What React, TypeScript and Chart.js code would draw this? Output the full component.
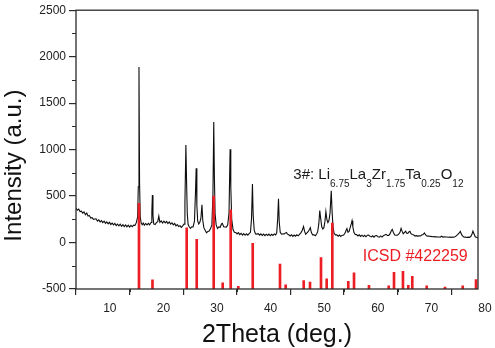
import { useEffect, useRef } from 'react';
import Chart from 'chart.js/auto';

// Measured XRD scan of sample 3# (2θ in degrees, intensity in counts)
const scanLow: [number, number][] = [
  [5.00,372],[5.25,348],[5.50,360],[5.75,333],[6.00,338],[6.25,316],[6.50,330],[6.75,300],[7.00,318],[7.25,285],
  [7.50,290],[7.75,264],[8.00,268],[8.25,249],[8.50,254],[8.75,256],[9.00,230],[9.25,244],[9.50,222],[9.75,236],
  [10.00,214],[10.25,230],[10.50,206],[10.75,222],[11.00,201],[11.25,218],[11.50,194],[11.75,209],[12.00,190],[12.25,206],
  [12.50,183],[12.75,199],[13.00,180],[13.25,197],[13.50,175],[13.75,192],[14.00,171],[14.25,189],[14.50,168],[14.75,186],
  [15.00,166],[15.25,184],[15.50,170],[15.75,187],[16.00,184],[16.25,214],[16.50,275],[16.62,600],[16.75,1890],[16.86,640],
  [16.98,280],[17.15,212],[17.35,192],[17.55,210],[17.75,187],[18.00,205],[18.25,189],[18.50,207],[18.75,191],[19.00,215],
  [19.15,330],[19.25,510],[19.36,290],[19.50,200],[19.75,194],[20.00,214],[20.25,224],[20.45,285],[20.65,218],[20.90,233],
  [21.15,210],[21.40,230],[21.65,212],[21.90,228],[22.15,204],[22.40,221],[22.65,199],[22.90,213],[23.15,191],[23.40,205],
  [23.65,180],[23.90,194],[24.15,173],[24.40,181],[24.65,164],[24.90,180],
];

const scanMid: [number, number][] = [
  [25.15,198],[25.32,420],[25.50,1050],[25.62,680],[25.76,310],[25.92,194],[26.12,170],[26.35,152],[26.60,170],[26.85,168],
  [27.10,230],[27.28,520],[27.42,800],[27.55,400],[27.70,232],[27.90,200],[28.10,218],[28.30,262],[28.50,405],[28.65,240],
  [28.85,160],[29.10,131],[29.35,104],[29.60,120],[29.85,124],[30.10,150],[30.35,190],[30.55,520],[30.70,1296],[30.82,700],
  [30.95,310],[31.15,190],[31.40,151],[31.65,168],[31.90,164],[32.15,200],[32.30,206],[32.55,170],[32.80,168],[33.05,166],
  [33.30,188],[33.55,320],[33.75,1005],[33.88,600],[34.05,250],[34.30,140],[34.55,110],[34.80,108],[35.05,92],[35.30,106],
  [35.55,86],[35.80,100],[36.05,80],[36.30,96],[36.55,78],[36.80,93],[37.05,79],[37.30,95],[37.55,110],[37.75,260],
  [37.92,630],[38.05,300],[38.25,130],[38.50,92],[38.75,91],[39.00,96],[39.25,79],[39.50,94],[39.75,76],[40.00,91],
  [40.25,74],[40.50,90],[40.75,76],[41.00,91],[41.25,73],[41.50,88],[41.75,76],[42.00,92],[42.25,82],[42.45,105],
  [42.62,250],[42.78,470],[42.92,220],[43.10,110],[43.35,90],[43.60,92],[43.85,93],[44.10,104],[44.25,108],[44.45,90],
  [44.70,84],[44.95,71],[45.20,84],[45.45,66],[45.70,81],[45.95,68],[46.20,83],[46.45,72],[46.70,88],[46.95,104],
  [47.20,130],[47.45,172],[47.65,120],[47.85,90],[48.05,102],[48.30,116],[48.55,140],[48.72,160],[48.90,110],[49.15,82],
  [49.40,84],[49.65,74],[49.90,92],
];

const scanHigh: [number, number][] = [
  [50.10,120],[50.30,200],[50.48,345],[50.65,260],[50.85,170],[51.05,145],[51.25,160],[51.45,230],[51.62,334],[51.80,250],
  [52.00,215],[52.20,240],[52.40,320],[52.62,557],[52.78,330],[52.95,170],[53.15,100],[53.40,82],[53.65,82],[53.90,68],
  [54.15,81],[54.40,66],[54.65,79],[54.90,78],[55.15,97],[55.35,125],[55.55,150],[55.75,110],[55.95,120],[56.15,160],
  [56.35,200],[56.50,235],[56.65,170],[56.85,110],[57.10,86],[57.35,85],[57.60,71],[57.85,83],[58.10,66],[58.35,79],
  [58.60,64],[58.85,77],[59.10,62],[59.35,79],[59.60,81],[59.85,66],[60.10,60],[60.35,73],[60.60,58],[60.85,74],
  [61.10,76],[61.35,61],[61.60,58],[61.85,71],[62.10,59],[62.35,74],[62.60,80],[62.85,88],[63.10,76],[63.35,77],
  [63.60,95],[63.85,130],[64.00,142],[64.20,110],[64.45,80],[64.70,78],[64.95,79],[65.20,90],[65.45,110],[65.65,152],
  [65.85,120],[66.05,95],[66.30,110],[66.50,122],[66.70,100],[66.90,98],[67.10,115],[67.30,122],[67.50,95],[67.75,86],
  [68.00,82],[68.25,70],[68.50,74],[68.75,69],[69.00,72],[69.25,70],[69.50,80],[69.75,86],[70.00,104],[70.20,84],
  [70.45,70],[70.70,69],[70.95,67],[71.20,66],[71.45,63],[71.70,64],[71.95,61],[72.20,62],[72.45,59],[72.70,60],
  [72.95,57],[73.20,68],[73.45,59],[73.70,62],[73.95,59],[74.20,60],[74.45,57],[74.70,59],[74.95,56],[75.20,58],
  [75.45,57],[75.70,63],[75.95,72],[76.20,85],[76.45,100],[76.70,120],[76.90,90],[77.15,68],[77.40,57],[77.65,60],
  [77.90,55],[78.15,58],[78.40,56],[78.65,64],[78.85,85],[79.05,122],[79.25,95],[79.50,60],[79.75,57],[80.00,50],
];

// Reference pattern ICSD #422259: stick positions and their top values (sticks rise from the -500 line)
const icsdTheta = [16.75, 19.27, 25.65, 27.52, 30.69, 32.37, 33.86, 35.28, 37.97, 43.06, 44.12, 47.48, 48.66, 50.71,
  51.77, 52.82, 55.80, 56.87, 59.66, 63.34, 64.33, 66.00, 67.00, 67.74, 70.43, 73.84, 77.15, 79.63];
const icsdTop = [422, -400, 157, 34, 500, -433, 352, -472, -8, -231, -454, -410, -426, -161,
  -390, 210, -418, -327, -461, -466, -320, -310, -461, -365, -465, -479, -465, -399];
const icsdBase = -500;

// Axis ticks
const xTickValues = [10, 20, 30, 40, 50, 60, 70, 80];
const xMinorValues = [15, 25, 35, 45, 55, 65, 75];
const yTickValues = [-500, 0, 500, 1000, 1500, 2000, 2500];
const yMinorValues = [-250, 250, 750, 1250, 1750, 2250];

// Labels
const sampleFormula: [string, boolean][] = [
  ['3#: Li', false], ['6.75', true], ['La', false], ['3', true], ['Zr', false], ['1.75', true],
  ['Ta', false], ['0.25', true], ['O', false], ['12', true],
];
const sampleLabelAt = { x: 45.55, y: 684 };
const icsdLabel = 'ICSD #422259';
const icsdLabelAt = { x: 58.5, y: -196 };
const xTitle = '2Theta (deg.)';
const yTitle = 'Intensity (a.u.)';

const FONT = "'Liberation Sans', Arial, Helvetica, sans-serif";
const RED = 'rgb(236, 30, 36)';
const AXIS = '#2b2b2b';

const decor = {
  id: 'decor',
  afterDraw(chart: any) {
    const { ctx, chartArea: a, scales } = chart;
    const x = scales.x;
    const y = scales.y;
    ctx.save();

    // plot frame
    ctx.strokeStyle = AXIS;
    ctx.lineWidth = 1.3;
    ctx.strokeRect(a.left, a.top, a.right - a.left, a.bottom - a.top);

    // minor ticks
    ctx.lineWidth = 1;
    ctx.beginPath();
    for (const v of yMinorValues) {
      const py = Math.round(y.getPixelForValue(v)) + 0.5;
      ctx.moveTo(a.left - 4, py);
      ctx.lineTo(a.left, py);
    }
    for (const v of xMinorValues) {
      const px = Math.round(x.getPixelForValue(v)) + 0.5;
      ctx.moveTo(px, a.bottom);
      ctx.lineTo(px, a.bottom + 3);
    }
    ctx.stroke();

    // axis titles
    ctx.fillStyle = '#111';
    ctx.textBaseline = 'alphabetic';
    ctx.textAlign = 'center';
    ctx.font = `25px ${FONT}`;
    ctx.fillText(xTitle, (a.left + a.right) / 2, 342);

    ctx.save();
    ctx.translate(21, (a.top + a.bottom) / 2 + 16);
    ctx.rotate(-Math.PI / 2);
    ctx.font = `24px ${FONT}`;
    ctx.fillText(yTitle, 0, 0);
    ctx.restore();

    // sample formula with subscripts
    ctx.textAlign = 'left';
    let cx = x.getPixelForValue(sampleLabelAt.x);
    const by = y.getPixelForValue(sampleLabelAt.y);
    ctx.fillStyle = '#1a1a1a';
    for (const [txt, sub] of sampleFormula) {
      ctx.font = sub ? `10px ${FONT}` : `15px ${FONT}`;
      ctx.fillText(txt, cx, sub ? by + 8 : by);
      cx += ctx.measureText(txt).width;
    }

    // reference pattern label
    ctx.fillStyle = RED;
    ctx.font = `16px ${FONT}`;
    ctx.fillText(icsdLabel, x.getPixelForValue(icsdLabelAt.x), y.getPixelForValue(icsdLabelAt.y));

    ctx.restore();
  },
};

export default function App() {
  const ref = useRef<HTMLCanvasElement>(null);

  useEffect(() => {
    const canvas = ref.current;
    if (!canvas) return;
    const scan = [...scanLow, ...scanMid, ...scanHigh];
    const chart = new Chart(canvas, {
      type: 'line',
      data: {
        datasets: [
          {
            type: 'bar',
            label: icsdLabel,
            data: icsdTheta.map((t, i) => ({ x: t, y: [icsdBase, icsdTop[i]] })) as any,
            backgroundColor: RED,
            borderWidth: 0,
            barThickness: 2,
            order: 0,
          },
          {
            type: 'line',
            label: '3#',
            data: scan.map(([t, v]) => ({ x: t, y: v })),
            borderColor: '#0d0d0d',
            borderWidth: 1.1,
            pointRadius: 0,
            tension: 0,
            order: 1,
          },
        ],
      },
      options: {
        responsive: false,
        animation: false,
        devicePixelRatio: 1,
        layout: { padding: { top: 6, right: 17, left: 0, bottom: 0 } },
        plugins: { legend: { display: false }, tooltip: { enabled: false } },
        scales: {
          x: {
            type: 'linear',
            min: 5,
            max: 80,
            offset: false,
            afterBuildTicks: (s: any) => { s.ticks = xTickValues.map((v) => ({ value: v })); },
            afterFit: (s: any) => { s.height = 59; },
            border: { display: false },
            grid: { display: true, drawOnChartArea: false, drawTicks: true, tickLength: 6, color: AXIS, lineWidth: 1.2 },
            ticks: {
              autoSkip: false,
              maxRotation: 0,
              labelOffset: 7,
              padding: 6,
              color: '#222',
              font: { family: FONT, size: 12 },
              callback: (v: any) => String(v),
            },
          },
          y: {
            type: 'linear',
            min: -500,
            max: 2500,
            afterBuildTicks: (s: any) => { s.ticks = yTickValues.map((v) => ({ value: v })); },
            afterFit: (s: any) => { s.width = 76; },
            border: { display: false },
            grid: { display: true, drawOnChartArea: false, drawTicks: true, tickLength: 7, color: AXIS, lineWidth: 1.2 },
            ticks: {
              autoSkip: false,
              padding: 3,
              color: '#222',
              font: { family: FONT, size: 12 },
              callback: (v: any) => String(v),
            },
          },
        },
      },
      plugins: [decor],
    });
    return () => chart.destroy();
  }, []);

  return (
    <canvas
      ref={ref}
      width={495}
      height={348}
      style={{ position: 'absolute', left: 0, top: 0, display: 'block' }}
    />
  );
}
